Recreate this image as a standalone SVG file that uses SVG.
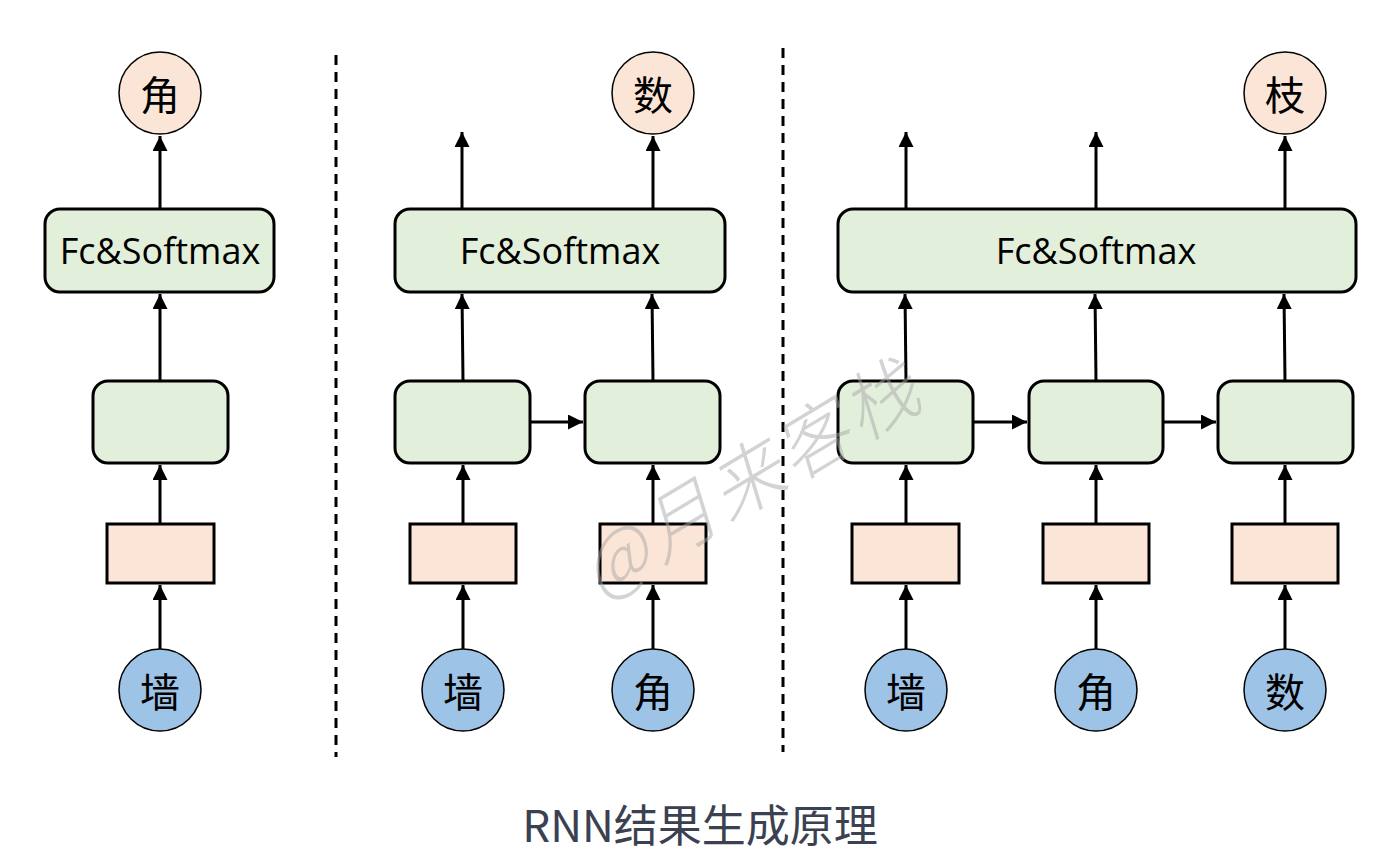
<svg xmlns="http://www.w3.org/2000/svg" width="1398" height="868" viewBox="0 0 1398 868">
<style>
.g{fill:#e2efda;stroke:#000;stroke-width:3}
.o{fill:#fbe5d6;stroke:#000;stroke-width:3}
.oc{fill:#fbe5d6;stroke:#000;stroke-width:1.5}
.b{fill:#9dc3e6;stroke:#000;stroke-width:1.5}
.t{font-family:"Noto Sans CJK SC","Noto Sans",sans-serif;font-size:40px;fill:#000;text-anchor:middle;dominant-baseline:central}
.f{font-family:"Open Sans","Noto Sans",sans-serif;font-size:36px;fill:#000;text-anchor:middle;dominant-baseline:central}
.a{stroke:#000;stroke-width:3;fill:none;marker-end:url(#ah)}
.d{stroke:#000;stroke-width:3;stroke-dasharray:10 7;fill:none}
</style>
<defs>
<marker id="ah" viewBox="0 0 10 10" refX="10" refY="5" markerWidth="5" markerHeight="5" markerUnits="strokeWidth" orient="auto">
<path d="M0,0 L10,5 L0,10 z" fill="#000"/>
</marker>
</defs>
<rect width="1398" height="868" fill="#fff"/>
<g id="connectors">
<line class="d" x1="336" y1="55" x2="336" y2="757"/>
<line class="d" x1="783" y1="48" x2="783" y2="752"/>
<line class="a" x1="160" y1="649" x2="160" y2="585"/>
<line class="a" x1="160" y1="524" x2="160" y2="465"/>
<line class="a" x1="160" y1="381" x2="160" y2="294"/>
<line class="a" x1="160" y1="209" x2="160" y2="136"/>
<line class="a" x1="463" y1="649" x2="463" y2="585"/>
<line class="a" x1="653" y1="649" x2="653" y2="585"/>
<line class="a" x1="463" y1="524" x2="463" y2="465"/>
<line class="a" x1="653" y1="524" x2="653" y2="465"/>
<line class="a" x1="463" y1="381" x2="462" y2="294"/>
<line class="a" x1="653" y1="381" x2="652" y2="294"/>
<line class="a" x1="530" y1="422" x2="583" y2="422"/>
<line class="a" x1="462" y1="209" x2="462" y2="132"/>
<line class="a" x1="653" y1="209" x2="653" y2="136"/>
<line class="a" x1="906" y1="649" x2="906" y2="585"/>
<line class="a" x1="1096" y1="649" x2="1096" y2="585"/>
<line class="a" x1="1285" y1="649" x2="1285" y2="585"/>
<line class="a" x1="906" y1="524" x2="906" y2="465"/>
<line class="a" x1="1096" y1="524" x2="1096" y2="465"/>
<line class="a" x1="1285" y1="524" x2="1285" y2="465"/>
<line class="a" x1="906" y1="381" x2="905" y2="294"/>
<line class="a" x1="1096" y1="381" x2="1095" y2="294"/>
<line class="a" x1="1285" y1="381" x2="1284" y2="294"/>
<line class="a" x1="973" y1="422" x2="1027" y2="422"/>
<line class="a" x1="1163" y1="422" x2="1216" y2="422"/>
<line class="a" x1="906" y1="209" x2="906" y2="132"/>
<line class="a" x1="1096" y1="209" x2="1096" y2="132"/>
<line class="a" x1="1285" y1="209" x2="1285" y2="136"/>
</g>
<g id="p1-out"><circle class="oc" cx="160" cy="93" r="41"/><text class="t" x="160" y="93">角</text></g>
<g id="p1-fc"><rect class="g" x="45" y="209" width="229" height="83" rx="15"/><text class="f" x="160" y="250">Fc&amp;Softmax</text></g>
<g id="p1-rnn"><rect class="g" x="93" y="381" width="135" height="82" rx="15"/></g>
<g id="p1-emb"><rect class="o" x="107" y="524" width="107" height="59"/></g>
<g id="p1-in"><circle class="b" cx="160" cy="690" r="41"/><text class="t" x="160" y="690">墙</text></g>
<g id="p2-out"><circle class="oc" cx="653" cy="93" r="41"/><text class="t" x="653" y="93">数</text></g>
<g id="p2-fc"><rect class="g" x="395" y="209" width="330" height="83" rx="15"/><text class="f" x="560" y="250">Fc&amp;Softmax</text></g>
<g id="p2-rnn1"><rect class="g" x="395" y="381" width="135" height="82" rx="15"/></g>
<g id="p2-rnn2"><rect class="g" x="585" y="381" width="135" height="82" rx="15"/></g>
<g id="p2-emb1"><rect class="o" x="410" y="524" width="106" height="59"/></g>
<g id="p2-emb2"><rect class="o" x="600" y="524" width="106" height="59"/></g>
<g id="p2-in1"><circle class="b" cx="463" cy="690" r="41"/><text class="t" x="463" y="690">墙</text></g>
<g id="p2-in2"><circle class="b" cx="653" cy="690" r="41"/><text class="t" x="653" y="690">角</text></g>
<g id="p3-out"><circle class="oc" cx="1285" cy="93" r="41"/><text class="t" x="1285" y="93">枝</text></g>
<g id="p3-fc"><rect class="g" x="838" y="209" width="518" height="83" rx="15"/><text class="f" x="1096" y="250">Fc&amp;Softmax</text></g>
<g id="p3-rnn1"><rect class="g" x="838" y="381" width="135" height="82" rx="15"/></g>
<g id="p3-rnn2"><rect class="g" x="1029" y="381" width="134" height="82" rx="15"/></g>
<g id="p3-rnn3"><rect class="g" x="1218" y="381" width="135" height="82" rx="15"/></g>
<g id="p3-emb1"><rect class="o" x="852" y="524" width="107" height="59"/></g>
<g id="p3-emb2"><rect class="o" x="1043" y="524" width="106" height="59"/></g>
<g id="p3-emb3"><rect class="o" x="1232" y="524" width="106" height="59"/></g>
<g id="p3-in1"><circle class="b" cx="906" cy="690" r="41"/><text class="t" x="906" y="690">墙</text></g>
<g id="p3-in2"><circle class="b" cx="1096" cy="690" r="41"/><text class="t" x="1096" y="690">角</text></g>
<g id="p3-in3"><circle class="b" cx="1285" cy="690" r="41"/><text class="t" x="1285" y="690">数</text></g>
<text x="0" y="0" transform="translate(600,600) rotate(-31)" font-family="'Noto Sans CJK SC',sans-serif" font-weight="300" font-size="74" font-style="italic" fill="#a8a8a8" fill-opacity="0.5" letter-spacing="4">@月来客栈</text>
<text x="700" y="823" text-anchor="middle" dominant-baseline="central" font-family="'Noto Sans CJK SC','Noto Sans',sans-serif" font-size="44" fill="#3a4150">RNN结果生成原理</text>
</svg>
